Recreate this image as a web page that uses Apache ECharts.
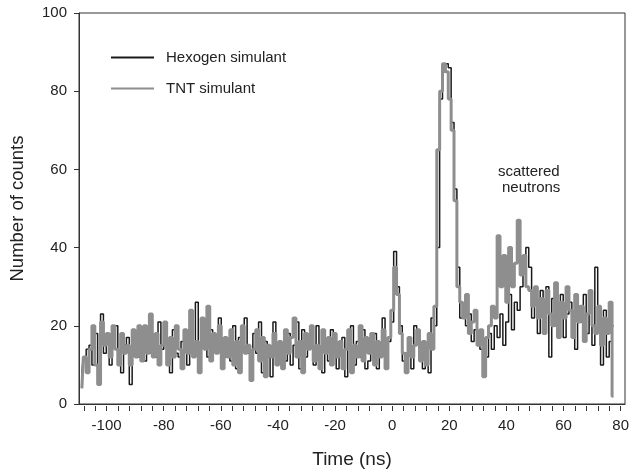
<!DOCTYPE html>
<html>
<head>
<meta charset="utf-8">
<script src="https://cdn.jsdelivr.net/npm/echarts@6/dist/echarts.min.js"></script>
<style>html,body{margin:0;padding:0;background:#fff}#c{width:632px;height:474px}</style>
</head>
<body>
<div id="c"></div>
<script>
// Histogram bins: 1 ns wide, first bin centred at -109 ns
const binStart = -109;
const binWidth = 1;
const yTicks = [0, 20, 40, 60, 80, 100];

// TNT simulant (grey, thick)
const tntCounts = [
  4, 12, 8, 14, 20, 10, 5, 21, 15, 18,
  12, 20, 14, 10, 18, 13, 15, 10, 19, 12,
  20, 11, 20, 13, 23, 12, 18, 10, 15, 21,
  10, 17, 12, 20, 14, 9, 19, 13, 24, 12,
  16, 8, 22, 14, 25, 11, 18, 13, 20, 9,
  17, 12, 19, 10, 16, 8, 20, 13, 15, 6,
  14, 19, 11, 17, 7, 15, 12, 18, 10, 16,
  9, 19, 13, 17, 22, 12, 16, 8, 18, 14,
  20, 11, 15, 9, 19, 13, 17, 10, 18, 12,
  16, 9, 14, 19, 8, 15, 12, 20, 11, 17,
  13, 18, 10, 16, 12, 19, 9, 17, 24, 35,
  28, 18, 13, 8, 17, 12, 15, 19, 11, 16,
  10, 18, 14, 25, 65, 80, 87, 85, 78, 70,
  52, 30, 26, 22, 28, 18, 21, 24, 15, 19,
  7, 17, 20, 25, 22, 43, 30, 38, 26, 40,
  30, 36, 47, 33, 38, 30, 29, 25, 30, 22,
  27, 18, 29, 23, 20, 31, 17, 26, 22, 30,
  24, 17, 28, 21, 25, 16, 23, 29, 20, 18,
  25, 15, 22, 18, 26, 2
];

// Hexogen simulant (black, thin)
const hexCounts = [
  8, 12, 14, 15, 10, 18, 6, 23, 13, 16,
  10, 17, 20, 12, 8, 15, 17, 5, 16, 14,
  12, 15, 11, 19, 13, 16, 12, 21, 14, 20,
  14, 8, 19, 13, 12, 16, 15, 10, 18, 13,
  26, 10, 15, 18, 12, 19, 14, 17, 22, 11,
  12, 15, 11, 20, 9, 17, 14, 22, 13, 9,
  18, 13, 21, 8, 16, 12, 7, 21, 14, 11,
  13, 11, 18, 10, 15, 21, 9, 19, 12, 16,
  18, 10, 20, 14, 8, 16, 11, 19, 13, 9,
  14, 17, 7, 15, 20, 10, 16, 12, 19, 9,
  11, 15, 18, 9, 14, 22, 10, 16, 21, 39,
  30, 20, 11, 13, 15, 9, 20, 18, 12, 9,
  12, 8, 22, 20, 40, 78, 85, 87, 86, 72,
  55, 35, 22, 25, 20, 23, 16, 19, 17, 14,
  14, 12, 18, 14, 20, 17, 23, 15, 21, 28,
  19, 26, 24, 30, 36, 40, 35, 22, 28, 18,
  29, 24, 30, 12, 27, 20, 25, 28, 17, 23,
  26, 19, 14, 25, 21, 28, 18, 24, 15, 35,
  20, 10, 24, 12, 16, 20
];

const seriesNames = ['Hexogen simulant', 'TNT simulant'];
const xMin = -110, xMax = 80;

function toPairs(vals) {
  return vals.map((v, i) => [binStart + i * binWidth, v]);
}

const FONT = '"Liberation Sans", Arial, Helvetica, sans-serif';
const plotLeft = 78, plotRight = 7, plotTop = 13, plotBottom = 68;
const plotW = 632 - plotLeft - plotRight;
const tickOffset = 2 * plotW / (xMax - xMin); // tick axis starts at -108

const chart = echarts.init(document.getElementById('c'), null, {renderer: 'canvas'});
chart.setOption({
  animation: false,
  backgroundColor: '#fff',
  textStyle: {fontFamily: FONT},
  grid: [
    {left: plotLeft, right: plotRight, top: plotTop, bottom: plotBottom, show: true, borderColor: '#333', borderWidth: 1, backgroundColor: 'transparent'},
    {left: plotLeft + tickOffset, right: plotRight, top: plotTop, bottom: plotBottom, show: false}
  ],
  legend: {
    orient: 'vertical', left: 105, top: 45,
    itemWidth: 43, itemHeight: 14, itemGap: 16,
    itemStyle: {opacity: 0},
    textStyle: {fontSize: 15, color: '#222', fontFamily: FONT, padding: [0, 0, 0, 7]},
    data: seriesNames
  },
  xAxis: [
    {type: 'value', gridIndex: 0, min: xMin, max: xMax,
     axisLine: {show: true, onZero: false, lineStyle: {color: '#333', width: 1}},
     axisTick: {show: false}, axisLabel: {show: false}, splitLine: {show: false},
     name: 'Time (ns)', nameLocation: 'middle', nameGap: 46,
     nameTextStyle: {fontSize: 19, color: '#222', fontFamily: FONT}},
    {type: 'value', gridIndex: 1, min: -108, max: xMax, interval: 4,
     axisLine: {show: false, onZero: false},
     axisTick: {show: true, length: 5, lineStyle: {color: '#333'}},
     axisLabel: {show: true, margin: 12, fontSize: 15, color: '#222', fontFamily: FONT,
       showMinLabel: true, showMaxLabel: true,
       formatter: v => (v % 20 === 0 ? String(v) : '')},
     splitLine: {show: false}}
  ],
  yAxis: [
    {type: 'value', gridIndex: 0, min: 0, max: 100, interval: 20,
     axisLine: {show: true, onZero: false, lineStyle: {color: '#333', width: 1}},
     axisTick: {show: true, length: 5, lineStyle: {color: '#333'}},
     axisLabel: {fontSize: 15, color: '#222', margin: 12, fontFamily: FONT,
       formatter: v => (yTicks.includes(v) ? String(v) : '')},
     splitLine: {show: false},
     name: 'Number of counts', nameLocation: 'middle', nameGap: 52,
     nameTextStyle: {fontSize: 18.5, color: '#222', fontFamily: FONT}},
    {type: 'value', gridIndex: 1, min: 0, max: 100, show: false}
  ],
  graphic: [
    {type: 'text', left: 498, top: 164, style: {text: 'scattered', fill: '#222', font: '15px ' + FONT}},
    {type: 'text', left: 502, top: 180, style: {text: 'neutrons', fill: '#222', font: '15px ' + FONT}}
  ],
  series: [
    {name: seriesNames[0], type: 'line', xAxisIndex: 0, yAxisIndex: 0, step: 'middle',
     symbol: 'none', showSymbol: false, data: toPairs(hexCounts),
     lineStyle: {color: '#1a1a1a', width: 1.5}, itemStyle: {color: '#1a1a1a'}, z: 2},
    {name: seriesNames[1], type: 'line', xAxisIndex: 0, yAxisIndex: 0, step: 'middle',
     symbol: 'none', showSymbol: false, data: toPairs(tntCounts),
     lineStyle: {color: '#8e8e8e', width: 3}, itemStyle: {color: '#8e8e8e'}, z: 3}
  ]
});
</script>
</body>
</html>
